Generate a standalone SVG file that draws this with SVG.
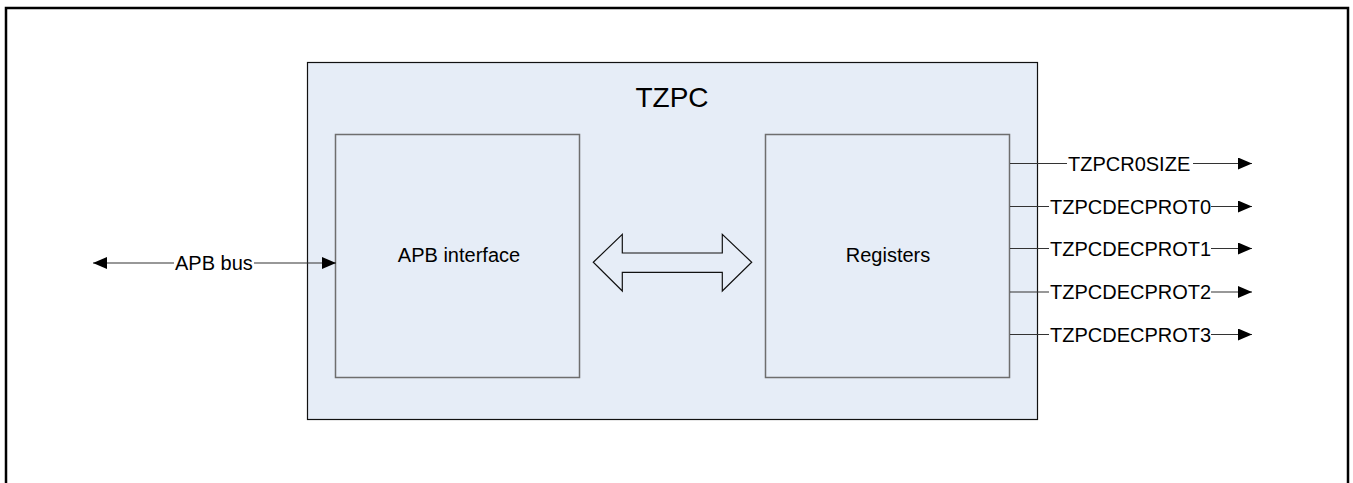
<svg xmlns="http://www.w3.org/2000/svg" width="1353" height="483" viewBox="0 0 1353 483">
<defs>
<style>
.t{font-family:"Liberation Sans",Arial,sans-serif;font-size:20px;fill:#000}
.c{stroke:#333;stroke-width:1.2;fill:none}
.blk{fill:#E6EDF7;stroke:#6E6E6E;stroke-width:1.5}
</style>
<marker id="ah" viewBox="0 0 14 12" refX="14" refY="6" markerWidth="14" markerHeight="12" markerUnits="userSpaceOnUse" orient="auto-start-reverse">
<path d="M0,0 L14,6 L0,12 Z" fill="#000"/>
</marker>
</defs>
<rect width="1353" height="483" fill="#fff"/>
<rect x="6" y="8" width="1342" height="500" fill="none" stroke="#000" stroke-width="2.5"/>
<g id="tzpc">
<rect x="307.5" y="62.5" width="730" height="357" fill="#E6EDF7" stroke="#111" stroke-width="1.2"/>
<text class="t" x="672" y="107" text-anchor="middle" style="font-size:28px">TZPC</text>
</g>
<g id="apb-interface">
<rect class="blk" x="335.5" y="134.5" width="244" height="243"/>
<text class="t" x="459" y="262" text-anchor="middle">APB interface</text>
</g>
<g id="registers">
<rect class="blk" x="765.5" y="134.5" width="244" height="243"/>
<text class="t" x="888" y="262" text-anchor="middle">Registers</text>
</g>
<g id="internal-bus">
<path d="M593.3,262.3 L622.3,234.3 L622.3,253 L722.3,253 L722.3,234.3 L751.7,262.3 L722.3,291 L722.3,272.3 L622.3,272.3 L622.3,291 Z" fill="#E6EDF7" stroke="#111" stroke-width="1.2"/>
</g>
<g id="connectors">
<line class="c" x1="93" y1="263" x2="174" y2="263" marker-start="url(#ah)"/>
<line class="c" x1="254" y1="263" x2="336" y2="263" marker-end="url(#ah)"/>
<text class="t" x="175" y="270">APB bus</text>

<line class="c" x1="1010" y1="163.5" x2="1067" y2="163.5"/>
<line class="c" x1="1193" y1="163.5" x2="1252" y2="163.5" marker-end="url(#ah)"/>
<text class="t" x="1068" y="170.5">TZPCR0SIZE</text>

<line class="c" x1="1010" y1="206.5" x2="1049" y2="206.5"/>
<line class="c" x1="1211" y1="206.5" x2="1252" y2="206.5" marker-end="url(#ah)"/>
<text class="t" x="1050" y="213.5">TZPCDECPROT0</text>

<line class="c" x1="1010" y1="248.5" x2="1049" y2="248.5"/>
<line class="c" x1="1211" y1="248.5" x2="1252" y2="248.5" marker-end="url(#ah)"/>
<text class="t" x="1050" y="255.5">TZPCDECPROT1</text>

<line class="c" x1="1010" y1="292" x2="1049" y2="292"/>
<line class="c" x1="1211" y1="292" x2="1252" y2="292" marker-end="url(#ah)"/>
<text class="t" x="1050" y="299">TZPCDECPROT2</text>

<line class="c" x1="1010" y1="334.5" x2="1049" y2="334.5"/>
<line class="c" x1="1211" y1="334.5" x2="1252" y2="334.5" marker-end="url(#ah)"/>
<text class="t" x="1050" y="341.5">TZPCDECPROT3</text>
</g>
</svg>
